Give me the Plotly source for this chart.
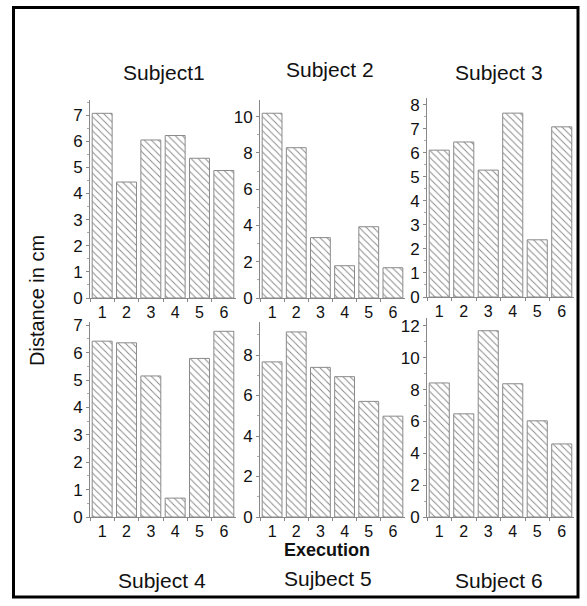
import plotly.graph_objects as go

executions = ["1", "2", "3", "4", "5", "6"]
subject1 = [7.07, 4.44, 6.05, 6.22, 5.35, 4.88]
subject2 = [10.19, 8.29, 3.33, 1.78, 3.93, 1.67]
subject3 = [6.11, 6.45, 5.28, 7.65, 2.38, 7.08]
subject4 = [6.42, 6.36, 5.15, 0.69, 5.79, 6.78]
subject5 = [7.66, 9.14, 7.39, 6.93, 5.71, 4.98]
subject6 = [8.42, 6.48, 11.7, 8.37, 6.04, 4.59]
titles = ["Subject1", "Subject 2", "Subject 3", "Subject 4", "Sujbect 5", "Subject 6"]
y_max = [7.58, 10.92, 8.28, 7.12, 9.63, 12.5]
y_dtick = [1, 2, 1, 1, 2, 2]

W, H = 587, 606
FONT = "Liberation Sans, Arial"
series = [subject1, subject2, subject3, subject4, subject5, subject6]
boxes = [(90, 236, 100, 298), (260, 405, 100, 298), (427, 574, 98, 297),
         (90, 236, 322, 517), (260, 405, 322, 517), (427, 574, 318, 517)]

fig = go.Figure()
layout = {}
for i, (vals, box) in enumerate(zip(series, boxes)):
    n = "" if i == 0 else str(i + 1)
    fig.add_trace(go.Bar(
        x=executions, y=vals, xaxis="x" + n, yaxis="y" + n,
        width=0.82,
        marker=dict(color="white",
                    line=dict(color="#8a8a8a", width=1),
                    pattern=dict(shape="\\", fgcolor="#8c8c8c", bgcolor="white",
                                 size=5, solidity=0.2)),
        showlegend=False, hoverinfo="skip"))
    x0, x1, yt, yb = box
    layout["xaxis" + n] = dict(
        domain=[x0 / W, x1 / W], anchor="y" + n, type="category",
        range=[-0.5, 5.5], showline=True, linecolor="#888", linewidth=1,
        ticks="outside", ticklen=3, tickcolor="#888", tickson="boundaries",
        showgrid=False, zeroline=False, automargin=False,
        tickfont=dict(family=FONT, size=16, color="#111"))
    layout["yaxis" + n] = dict(
        domain=[1 - yb / H, 1 - yt / H], anchor="x" + n,
        range=[0, y_max[i]], dtick=y_dtick[i], tick0=0,
        showline=True, linecolor="#888", linewidth=1,
        ticks="outside", ticklen=3, tickcolor="#888",
        minor=dict(dtick=y_dtick[i] / 2, ticks="outside", ticklen=2, tickcolor="#aaa"),
        showgrid=False, zeroline=False, automargin=False,
        tickfont=dict(family=FONT, size=17, color="#111"))

title_pos = [(164, 73), (330, 70), (499, 73), (162, 580), (328, 578), (499, 580)]
annotations = []
for t, (px, py) in zip(titles, title_pos):
    annotations.append(dict(text=t, x=px / W, y=1 - py / H, xref="paper", yref="paper",
                            showarrow=False, xanchor="center", yanchor="middle",
                            font=dict(family=FONT, size=21, color="#111")))
annotations.append(dict(text="<b>Execution</b>", x=327 / W, y=1 - 550 / H, xref="paper",
                        yref="paper", showarrow=False, xanchor="center", yanchor="middle",
                        font=dict(family=FONT, size=18, color="#111")))
annotations.append(dict(text="Distance in cm", x=37 / W, y=1 - 300 / H, xref="paper",
                        yref="paper", showarrow=False, textangle=-90,
                        xanchor="center", yanchor="middle",
                        font=dict(family=FONT, size=20, color="#111")))

fig.update_layout(
    template="none",
    width=W, height=H, autosize=False, margin=dict(l=0, r=0, t=0, b=0, pad=0),
    paper_bgcolor="white", plot_bgcolor="white",
    annotations=annotations,
    shapes=[dict(type="rect", xref="paper", yref="paper",
                 x0=13.5 / W, x1=578 / W, y0=1 - 597 / H, y1=1 - 7.5 / H,
                 line=dict(color="black", width=3))],
    **layout)

fig.write_html("out.html", config={"displayModeBar": False, "responsive": False},
               post_script="document.body.style.margin='0';")
